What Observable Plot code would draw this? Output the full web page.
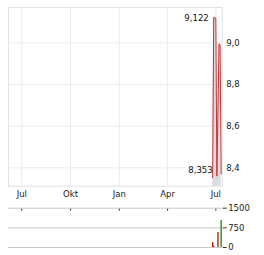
<!DOCTYPE html>
<html><head><meta charset="utf-8">
<script src="https://cdn.jsdelivr.net/npm/d3@7"></script>
<script src="https://cdn.jsdelivr.net/npm/@observablehq/plot@0.6"></script>
<style>
html,body{margin:0;padding:0;background:#fff;}
#wrap{position:relative;width:264px;height:255px;overflow:hidden;font-family:"DejaVu Sans",sans-serif;}
#main{position:absolute;left:0;top:0;}
#vol{position:absolute;left:0;top:200px;}
</style></head>
<body><div id="wrap"><div id="main"></div><div id="vol"></div></div>
<script>
// price series
const priceDates = ["2024-06-25","2024-06-27","2024-07-01","2024-07-03","2024-07-07","2024-07-09","2024-07-11"];
const priceValues = [8.353, 9.122, 9.118, 8.36, 8.995, 8.99, 8.37];
// volume series
const volDates = ["2024-06-25","2024-06-27","2024-07-05","2024-07-11"];
const volValues = [190, 50, 570, 1030];
const volDir = ["down","down","down","up"];
// axes
const xDomain = ["2023-06-06","2024-07-13"];
const monthTicks = ["2023-07-01","2023-10-01","2024-01-01","2024-04-01","2024-07-01"];
const monthLabels = ["Jul","Okt","Jan","Apr","Jul"];
const yDomain = [8.3117, 9.1695];
const yTicks = [8.4, 8.6, 8.8, 9.0];
const volTicks = [0, 750, 1500];

const P = d3.utcParse("%Y-%m-%d");
const price = priceDates.map((d,i)=>({date:P(d), v:priceValues[i]}));
const vol = volDates.map((d,i)=>({date:P(d), v:volValues[i], dir:volDir[i]}));
const ticks = monthTicks.map(P);
const xd = xDomain.map(P);
const lab = new Map(ticks.map((t,i)=>[+t, monthLabels[i]]));
const fmt = (d, n) => d.toFixed(n).replace(".", ",");
const maxP = price.reduce((a,b)=>b.v>a.v?b:a);
const minP = price.reduce((a,b)=>b.v<a.v?b:a);

const font = {fontFamily:"DejaVu Sans, sans-serif", fontSize:"8.5px", color:"#222", background:"transparent"};

const main = Plot.plot({
  width:264, height:205,
  marginLeft:8, marginRight:42.3, marginTop:7, marginBottom:19.3,
  style: font,
  x:{type:"utc", domain:xd},
  y:{domain:yDomain},
  marks:[
    Plot.gridX(ticks, {stroke:"#ececec", strokeOpacity:1}),
    Plot.gridY(yTicks, {stroke:"#ececec", strokeOpacity:1}),
    Plot.frame({stroke:"#e2e2e2"}),
    Plot.areaY(price, {x:"date", y1:yDomain[0], y2:"v", fill:"#d6d6de", fillOpacity:0.85}),
    Plot.lineY(price, {x:"date", y:"v", stroke:"#c83030", strokeWidth:1}),
    Plot.axisX({ticks:ticks, tickSize:0, tickPadding:5, tickFormat:d=>lab.get(+d), label:null, fill:"#222"}),
    Plot.axisY({anchor:"right", ticks:yTicks, tickSize:0, tickPadding:4, tickFormat:d=>fmt(d,1), label:null, fill:"#222"}),
    Plot.text([maxP], {x:"date", y:"v", text:d=>fmt(d.v,3), textAnchor:"end", dx:-5, dy:1, fill:"#111"}),
    Plot.text([minP], {x:"date", y:"v", text:d=>fmt(d.v,3), textAnchor:"end", dx:0, dy:-7, fill:"#111"})
  ]
});
document.getElementById("main").appendChild(main);

const volPlot = Plot.plot({
  width:264, height:55,
  marginLeft:8, marginRight:42.3, marginTop:7.7, marginBottom:8,
  style: font,
  x:{type:"utc", domain:xd},
  y:{domain:[0,1500]},
  color:{domain:["down","up"], range:["#b01010","#0a8a0a"]},
  marks:[
    Plot.ruleY(volTicks, {stroke:"#c8c8c8"}),
    Plot.axisX({anchor:"top", ticks:ticks, tickSize:2, dy:2, tickFormat:()=>"", label:null, stroke:"#333"}),
    Plot.ruleX(vol, {x:"date", y:"v", stroke:"dir", strokeWidth:1.3}),
    Plot.axisY({anchor:"right", ticks:volTicks, tickSize:4, tickPadding:2, tickFormat:d=>String(d), label:null, fill:"#222", stroke:"#333"})
  ]
});
document.getElementById("vol").appendChild(volPlot);
</script></body></html>
